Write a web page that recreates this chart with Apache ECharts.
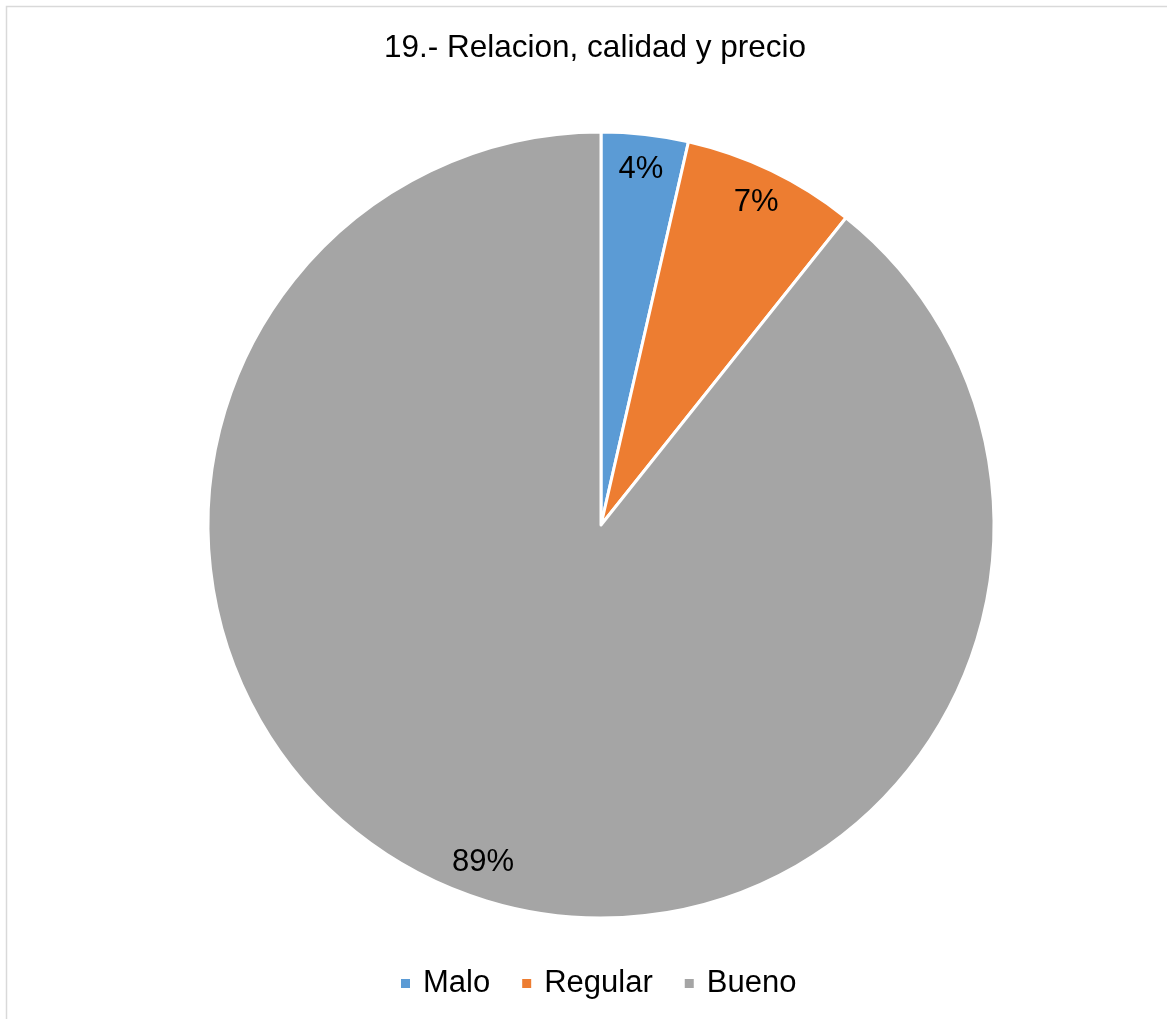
<!DOCTYPE html>
<html>
<head>
<meta charset="utf-8">
<script src="https://cdn.jsdelivr.net/npm/echarts@6/dist/echarts.min.js"></script>
<style>
html,body{margin:0;padding:0;background:#fff;}
#chart{width:1167px;height:1019px;}
</style>
</head>
<body>
<div id="chart"></div>
<script>
var chartTitle = '19.- Relacion, calidad y precio';
var categories = ['Malo', 'Regular', 'Bueno'];
var values = [1, 2, 25];
var colors = ['#5B9BD5', '#ED7D31', '#A5A5A5'];

var chart = echarts.init(document.getElementById('chart'));
var pieData = categories.map(function (c, i) {
  return { name: c, value: values[i], itemStyle: { color: colors[i] } };
});
var fontFam = '"Liberation Sans", Arial, sans-serif';
chart.setOption({
  backgroundColor: '#ffffff',
  animation: false,
  graphic: [{
    type: 'rect',
    shape: { x: 6.5, y: 6.5, width: 1300, height: 1100 },
    style: { fill: 'none', stroke: '#d9d9d9', lineWidth: 1.5 },
    silent: true,
    z: -10
  }],
  title: {
    text: chartTitle,
    left: 590,
    textAlign: 'center',
    top: 27,
    textStyle: { fontFamily: fontFam, fontSize: 31.5, fontWeight: 'normal', color: '#000' }
  },
  legend: {
    data: categories,
    top: 963,
    left: 394,
    icon: 'rect',
    itemWidth: 11,
    itemHeight: 11,
    itemGap: 30,
    textStyle: { fontFamily: fontFam, fontSize: 31, color: '#000', padding: [0, 0, 0, 7] }
  },
  series: [{
    type: 'pie',
    center: [601, 525],
    radius: [0, 393],
    startAngle: 90,
    clockwise: true,
    data: pieData,
    label: { show: false },
    labelLine: { show: false },
    itemStyle: { borderColor: '#ffffff', borderWidth: 3 },
    emphasis: { disabled: true }
  }, {
    type: 'pie',
    center: [601, 525],
    radius: [316, 393],
    startAngle: 90,
    clockwise: true,
    silent: true,
    data: pieData.map(function (d) { return { name: d.name, value: d.value, itemStyle: { color: 'rgba(0,0,0,0)' } }; }),
    itemStyle: { borderWidth: 0 },
    label: {
      show: true,
      position: 'inside',
      formatter: function (p) { return Math.round(p.percent) + '%'; },
      fontFamily: fontFam,
      fontSize: 31,
      color: '#000'
    },
    labelLine: { show: false },
    emphasis: { disabled: true }
  }]
});
</script>
</body>
</html>
